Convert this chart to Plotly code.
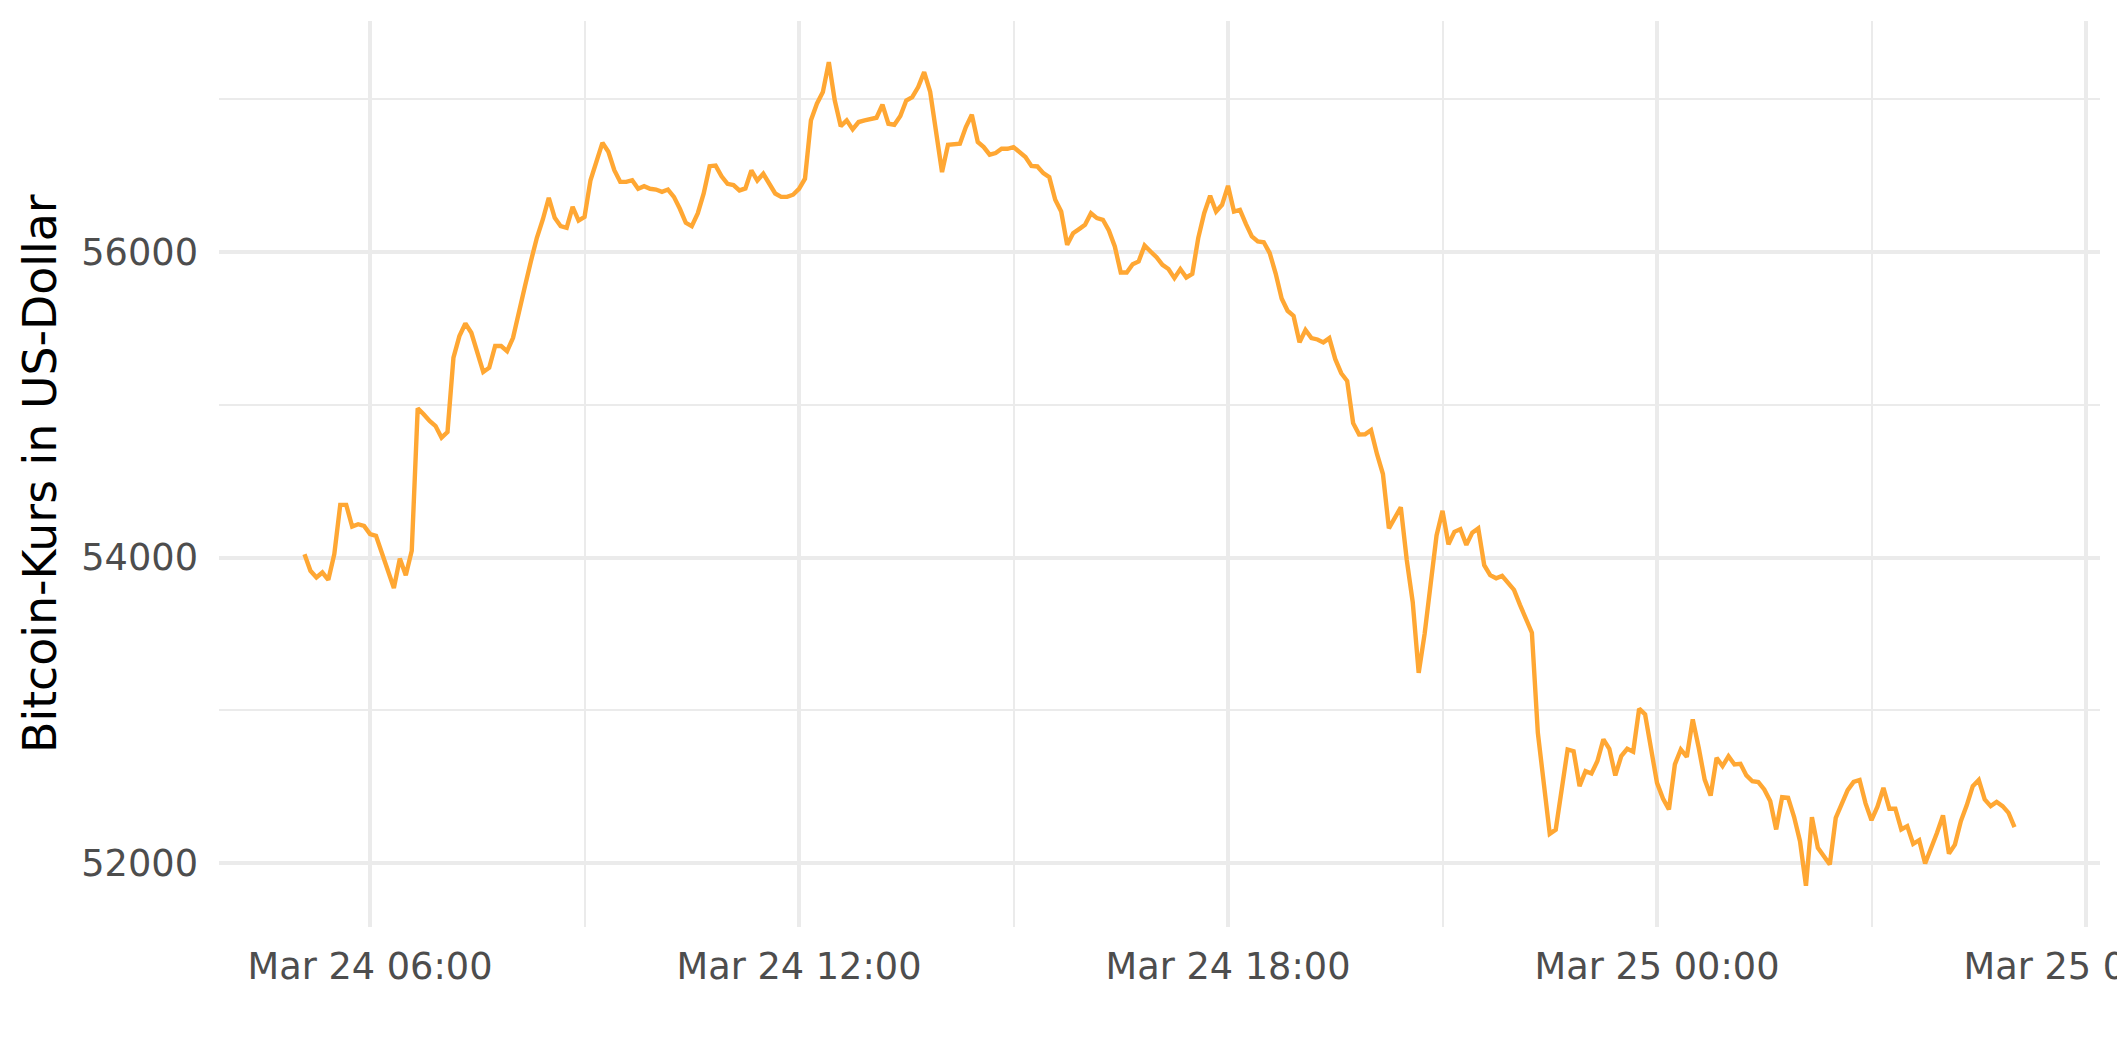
import pandas as pd
import plotly.graph_objects as go

# ---- data (5-minute steps) ----
start_time = "2021-03-24 05:05"
interval = "5min"

price_usd = [
    54022, 53913, 53869, 53902, 53854, 54022, 54345, 54345, 54203, 54218, 54207, 54153,
    54142, 54033, 53913, 53800, 53993, 53884, 54044, 54977, 54938, 54894, 54861, 54785,
    54822, 55309, 55450, 55533, 55472, 55330, 55215, 55243, 55385, 55385, 55352, 55439,
    55625, 55777, 55941, 56094, 56214, 56356, 56225, 56170, 56159, 56297, 56207, 56231,
    56471, 56596, 56716, 56657, 56537, 56460, 56460, 56471, 56415, 56432, 56415, 56410,
    56395, 56410, 56362, 56284, 56192, 56170, 56253, 56384, 56563, 56567, 56497, 56447,
    56439, 56404, 56417, 56535, 56469, 56513, 56443, 56384, 56362, 56362, 56376, 56415,
    56481, 56863, 56972, 57048, 57244, 56993, 56825, 56863, 56804, 56852, 56863, 56869,
    56880, 56965, 56841, 56834, 56891, 56993, 57015, 57081, 57179, 57052, 56797, 56524,
    56703, 56710, 56710, 56819, 56900, 56721, 56688, 56638, 56649, 56677, 56677, 56688,
    56655, 56623, 56565, 56561, 56517, 56491, 56343, 56266, 56048, 56124, 56151, 56179,
    56255, 56223, 56212, 56142, 56037, 55867, 55867, 55921, 55939, 56044, 56004, 55967,
    55917, 55889, 55830, 55889, 55834, 55858, 56092, 56255, 56369, 56266, 56310, 56434,
    56266, 56277, 56185, 56103, 56070, 56065, 55993, 55860, 55697, 55616, 55582, 55409,
    55490, 55437, 55428, 55409, 55437, 55299, 55207, 55156, 54880, 54805, 54807, 54834,
    54678, 54547, 54191, 54264, 54329, 53984, 53708, 53245, 53501, 53823, 54145, 54306,
    54087, 54168, 54186, 54083, 54163, 54191, 53950, 53885, 53864, 53880, 53839, 53788,
    53690, 53605, 53508, 52852, 52503, 52190, 52218, 52481, 52743, 52732, 52503, 52601,
    52586, 52667, 52809, 52747, 52573, 52699, 52747, 52728, 53010, 52973, 52761, 52524,
    52422, 52350, 52645, 52743, 52695, 52940, 52754, 52546, 52441, 52688, 52634, 52699,
    52645, 52649, 52573, 52535, 52529, 52481, 52405, 52219, 52431, 52427, 52302, 52142,
    51850, 52300, 52099, 52040, 51989, 52295, 52383, 52477, 52530, 52543, 52390, 52280,
    52368, 52492, 52355, 52355, 52219, 52241, 52125, 52149, 51996, 52094, 52197, 52311,
    52061, 52120, 52274, 52379, 52503, 52543, 52416, 52372, 52400, 52372, 52328, 52234,
]

y_tick_values = [52000, 54000, 56000]
y_tick_labels = ["52000", "54000", "56000"]
x_tick_anchor = "2021-03-24 06:00"
y_title = "Bitcoin-Kurs in US-Dollar"

times = pd.date_range(start_time, periods=len(price_usd), freq=interval)

# ggplot-like 5% expansion of the scales
lo, hi = min(price_usd), max(price_usd)
ypad = 0.05 * (hi - lo)
t0, t1 = times[0], times[-1]
tpad = (t1 - t0) * 0.05

GRID = "#EBEBEB"
TXT = "#4D4D4D"
FONT = "DejaVu Sans"
HOUR_MS = 3600 * 1000

# the page body adds an 8px margin, so the figure is 8px smaller on each side
FIG_W, FIG_H = 2117, 1054
M_L, M_R, M_T, M_B = 211, 25, 13, 135

fig = go.Figure(
    go.Scatter(
        x=times,
        y=price_usd,
        mode="lines",
        line=dict(color="#FFA733", width=4.4),
        hoverinfo="x+y",
    )
)

fig.update_layout(
    width=FIG_W,
    height=FIG_H,
    margin=dict(l=M_L, r=M_R, t=M_T, b=M_B, autoexpand=False),
    plot_bgcolor="white",
    paper_bgcolor="white",
    showlegend=False,
    font=dict(family=FONT, color=TXT),
)

fig.update_xaxes(
    type="date",
    range=[t0 - tpad, t1 + tpad],
    tick0=x_tick_anchor,
    dtick=6 * HOUR_MS,
    tickformat="%b %d %H:%M",
    showgrid=True,
    gridcolor=GRID,
    gridwidth=4.4,
    minor=dict(tick0=x_tick_anchor, dtick=3 * HOUR_MS, showgrid=True,
               gridcolor=GRID, gridwidth=2.2),
    zeroline=False,
    showline=False,
    ticks="",
    tickfont=dict(family=FONT, size=36.7, color=TXT),
    ticklabelstandoff=14,
    ticklabeloverflow="allow",
    automargin=False,
)

fig.update_yaxes(
    range=[lo - ypad, hi + ypad],
    tickmode="array",
    tickvals=y_tick_values,
    ticktext=y_tick_labels,
    showgrid=True,
    gridcolor=GRID,
    gridwidth=4.4,
    minor=dict(tick0=0, dtick=1000, showgrid=True, gridcolor=GRID, gridwidth=2.2),
    zeroline=False,
    showline=False,
    ticks="",
    tickfont=dict(family=FONT, size=36.7, color=TXT),
    ticklabelstandoff=20,
    automargin=False,
)

fig.add_annotation(
    text=y_title,
    xref="paper",
    yref="paper",
    x=(32 - M_L) / (FIG_W - M_L - M_R),
    y=0.5,
    xanchor="center",
    yanchor="middle",
    textangle=-90,
    showarrow=False,
    font=dict(family=FONT, size=45.8, color="black"),
)

fig.write_html("out.html")
